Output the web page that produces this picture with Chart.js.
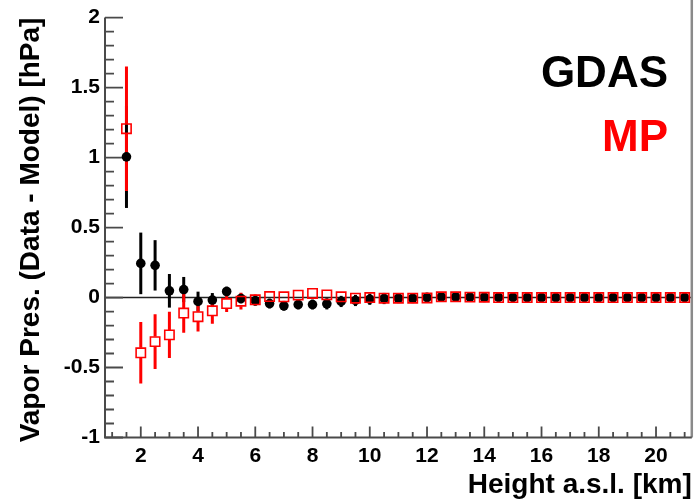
<!DOCTYPE html>
<html>
<head>
<meta charset="utf-8">
<script src="https://cdn.jsdelivr.net/npm/chart.js@4.4.1/dist/chart.umd.min.js"></script>
<style>
  html, body { margin: 0; padding: 0; background: #fff; }
  canvas { display: block; }
</style>
</head>
<body>
<canvas id="chart" width="700" height="502"></canvas>
<script>
// Height bins [km]
const heights = [
  1.5, 2, 2.5, 3, 3.5, 4, 4.5, 5, 5.5, 6, 6.5, 7, 7.5, 8, 8.5, 9, 9.5, 10, 10.5, 11,
  11.5, 12, 12.5, 13, 13.5, 14, 14.5, 15, 15.5, 16, 16.5, 17, 17.5, 18, 18.5, 19, 19.5, 20, 20.5, 21,
];

// GDAS: data - model [hPa]
const gdasValues = [
  1.005, 0.244, 0.23, 0.048, 0.057, -0.028, -0.018, 0.043, -0.007, -0.023,
  -0.043, -0.059, -0.05, -0.05, -0.045, -0.028, -0.021, -0.012, -0.007, -0.005,
  -0.005, 0.0, 0.005, 0.005, 0.003, 0.002, 0.001, 0.001, 0.0, 0.0,
  0.0, 0.0, 0.0, 0.0, 0.0, 0.0, 0.0, 0.0, 0.0, 0.0,
];
const gdasErrors = [
  0.365, 0.22, 0.18, 0.12, 0.09, 0.07, 0.05, 0.035, 0.035, 0.035,
  0.035, 0.035, 0.035, 0.035, 0.04, 0.04, 0.04, 0.04, 0.04, 0.035,
  0.035, 0.035, 0.035, 0.035, 0.035, 0.035, 0.035, 0.035, 0.035, 0.035,
  0.035, 0.035, 0.035, 0.035, 0.035, 0.035, 0.035, 0.035, 0.035, 0.035,
];

// MP: data - model [hPa]
const mpValues = [
  1.206, -0.395, -0.315, -0.267, -0.111, -0.137, -0.095, -0.043, -0.026, -0.016,
  0.007, 0.005, 0.017, 0.029, 0.019, 0.005, -0.005, 0.0, -0.005, -0.005,
  -0.005, -0.003, 0.005, 0.005, 0.003, 0.002, 0.0, 0.0, 0.0, 0.0,
  0.0, 0.0, 0.0, 0.0, 0.0, 0.0, 0.0, 0.0, 0.0, 0.0,
];
const mpErrors = [
  0.445, 0.22, 0.195, 0.165, 0.14, 0.105, 0.093, 0.06, 0.06, 0.04,
  0.03, 0.025, 0.025, 0.025, 0.025, 0.02, 0.02, 0.02, 0.02, 0.02,
  0.02, 0.02, 0.02, 0.02, 0.02, 0.02, 0.02, 0.02, 0.02, 0.02,
  0.02, 0.02, 0.02, 0.02, 0.02, 0.02, 0.02, 0.02, 0.02, 0.02,
];

const xTicks = [2, 4, 6, 8, 10, 12, 14, 16, 18, 20];
const yTicks = [-1, -0.5, 0, 0.5, 1, 1.5, 2];

const FONT = '"Liberation Sans", Arial, Helvetica, sans-serif';
const SQUARE_HALF = 5;

function toPoints(values) {
  return values.map((v, i) => ({ x: heights[i], y: v }));
}

// error bars first, markers come on top (GDAS dots drawn over MP bars, as in ROOT)
const errorBars = {
  id: "errorBars",
  beforeDatasetsDraw(chart) {
    const { ctx, scales: { x, y } } = chart;
    ctx.save();
    ctx.lineWidth = 3;
    ctx.lineCap = "butt";

    ctx.strokeStyle = "#000";
    gdasValues.forEach((v, i) => {
      const px = x.getPixelForValue(heights[i]);
      ctx.beginPath();
      ctx.moveTo(px, y.getPixelForValue(v + gdasErrors[i]));
      ctx.lineTo(px, y.getPixelForValue(v - gdasErrors[i]));
      ctx.stroke();
    });

    ctx.strokeStyle = "#ff0000";
    mpValues.forEach((v, i) => {
      const px = x.getPixelForValue(heights[i]);
      const py = y.getPixelForValue(v);
      const top = y.getPixelForValue(v + mpErrors[i]);
      const bot = y.getPixelForValue(v - mpErrors[i]);
      ctx.beginPath();
      if (top < py - SQUARE_HALF) {
        ctx.moveTo(px, top);
        ctx.lineTo(px, py - SQUARE_HALF);
      }
      if (bot > py + SQUARE_HALF) {
        ctx.moveTo(px, py + SQUARE_HALF);
        ctx.lineTo(px, bot);
      }
      ctx.stroke();
    });
    ctx.restore();
  },
};

// ROOT-style frame: inward major/minor ticks, zero line, right border, labels
const frame = {
  id: "frame",
  beforeDatasetsDraw(chart) {
    const { ctx, chartArea: a, scales: { x, y } } = chart;
    ctx.save();

    // zero line
    ctx.strokeStyle = "#222";
    ctx.lineWidth = 1.6;
    const y0 = y.getPixelForValue(0);
    ctx.beginPath();
    ctx.moveTo(a.left, y0);
    ctx.lineTo(a.right, y0);
    ctx.stroke();

    // right border
    ctx.strokeStyle = "#8a8a8a";
    ctx.lineWidth = 2.5;
    ctx.beginPath();
    ctx.moveTo(a.right, 0);
    ctx.lineTo(a.right, a.bottom);
    ctx.stroke();

    // axes
    ctx.strokeStyle = "#4a4a4a";
    ctx.lineWidth = 2;
    ctx.beginPath();
    ctx.moveTo(a.left, a.top);
    ctx.lineTo(a.left, a.bottom);
    ctx.lineTo(a.right, a.bottom);
    ctx.stroke();

    ctx.lineWidth = 1.8;
    ctx.beginPath();
    for (let k = -10; k <= 20; k++) {
      const py = y.getPixelForValue(k / 10);
      const len = k % 5 === 0 ? 18 : 9;
      ctx.moveTo(a.left, py);
      ctx.lineTo(a.left + len, py);
    }
    for (let k = 2; k <= 42; k++) {
      const v = k / 2;
      const px = x.getPixelForValue(v);
      const len = v % 2 === 0 ? 11 : 5.5;
      ctx.moveTo(px, a.bottom);
      ctx.lineTo(px, a.bottom - len);
    }
    ctx.stroke();
    ctx.restore();
  },
  afterDraw(chart) {
    const { ctx } = chart;
    ctx.save();
    ctx.font = `bold 44px ${FONT}`;
    ctx.textAlign = "right";
    ctx.textBaseline = "alphabetic";
    ctx.fillStyle = "#000";
    ctx.fillText("GDAS", 668, 87);
    ctx.fillStyle = "#ff0000";
    ctx.fillText("MP", 668, 151);
    ctx.restore();
  },
};

new Chart(document.getElementById("chart"), {
  type: "scatter",
  data: {
    datasets: [
      {
        label: "MP",
        data: toPoints(mpValues),
        pointStyle: "rect",
        pointRadius: 6.6,
        pointBorderWidth: 1.6,
        pointBorderColor: "#ff0000",
        pointBackgroundColor: "rgba(0,0,0,0)",
        showLine: false,
      },
      {
        label: "GDAS",
        data: toPoints(gdasValues),
        pointStyle: "circle",
        pointRadius: 4.8,
        pointBorderWidth: 0,
        pointBackgroundColor: "#000",
        showLine: false,
      },
    ],
  },
  options: {
    responsive: false,
    animation: false,
    events: [],
    layout: { padding: { top: 15.3, right: 5.5, left: 0, bottom: 0 } },
    plugins: { legend: { display: false }, tooltip: { enabled: false } },
    scales: {
      x: {
        type: "linear",
        min: 0.75,
        max: 21.25,
        grid: { display: false, drawTicks: false },
        border: { display: false },
        afterBuildTicks: (s) => { s.ticks = xTicks.map((v) => ({ value: v })); },
        afterFit: (s) => { s.height = 64.5; },
        ticks: {
          autoSkip: false,
          maxRotation: 0,
          padding: 6,
          color: "#000",
          font: { family: FONT, size: 21, weight: "bold" },
          callback: (v) => String(v),
        },
        title: {
          display: true,
          text: "Height a.s.l. [km]",
          align: "end",
          color: "#000",
          padding: { top: 0, bottom: 0 },
          font: { family: FONT, size: 28, weight: "bold" },
        },
      },
      y: {
        type: "linear",
        min: -1,
        max: 2,
        grid: { display: false, drawTicks: false },
        border: { display: false },
        afterBuildTicks: (s) => { s.ticks = yTicks.map((v) => ({ value: v })); },
        afterFit: (s) => { s.width = 105; },
        ticks: {
          autoSkip: false,
          padding: 5,
          color: "#000",
          font: { family: FONT, size: 21, weight: "bold" },
          callback: (v) => String(v),
        },
        title: {
          display: true,
          text: "Vapor Pres. (Data - Model) [hPa]",
          align: "end",
          color: "#000",
          padding: { top: 14, bottom: 0 },
          font: { family: FONT, size: 28, weight: "bold" },
        },
      },
    },
  },
  plugins: [frame, errorBars],
});
</script>
</body>
</html>
